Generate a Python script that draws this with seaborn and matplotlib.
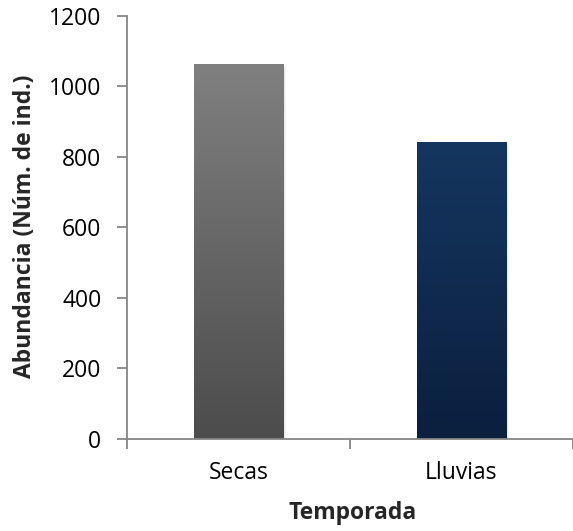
import numpy as np
import pandas as pd
import matplotlib
matplotlib.use("Agg")
import matplotlib.pyplot as plt
import matplotlib.colors as mcolors
import seaborn as sns

temporadas = ["Secas", "Lluvias"]
abundancia = [1064, 843]
y_ticks = [0, 200, 400, 600, 800, 1000, 1200]

# gradient end colours (top, bottom) for each bar
grad_top = ["#808080", "#15365f"]
grad_bottom = ["#4c4c4c", "#0b1f3e"]

sns.set_theme(style="white")
plt.rcParams["font.family"] = ["Open Sans", "DejaVu Sans"]

W, H = 573, 531
fig = plt.figure(figsize=(W / 100, H / 100), dpi=100)
ax = fig.add_axes([0.2216, 0.1733, 0.7784, 0.7966])

df = pd.DataFrame({"Temporada": temporadas, "Abundancia": abundancia})
sns.barplot(data=df, x="Temporada", y="Abundancia", ax=ax, width=0.40,
            color="#777777", saturation=1)

# replace flat fills with vertical gradients and a soft shadow
for patch, top, bot in zip(list(ax.patches), grad_top, grad_bottom):
    x0, y0 = patch.get_x(), patch.get_y()
    w, h = patch.get_width(), patch.get_height()
    cmap = mcolors.LinearSegmentedColormap.from_list("g", [bot, top])
    grad = np.linspace(0, 1, 256).reshape(-1, 1)
    for k, a in enumerate([0.10, 0.06, 0.03]):
        sh = plt.Rectangle((x0 + 0.004 * (k + 1), y0), w, h - 3 * (k + 1),
                           facecolor="black", alpha=a, edgecolor="none", zorder=1)
        ax.add_patch(sh)
    im = ax.imshow(grad, cmap=cmap, aspect="auto", origin="lower",
                   extent=[x0, x0 + w, y0, y0 + h], zorder=2)
    im.set_clip_path(patch)
    patch.set_facecolor("none")
    patch.set_edgecolor("none")
    patch.set_zorder(3)

ax.set_xlim(-0.5, 1.47)
ax.set_ylim(0, 1200)

axis_col = "#868686"
for s in ["top", "right"]:
    ax.spines[s].set_visible(False)
for s in ["left", "bottom"]:
    ax.spines[s].set_color(axis_col)
    ax.spines[s].set_linewidth(1.3)

ax.set_yticks(y_ticks)
ax.set_yticklabels([str(v) for v in y_ticks], fontsize=16.5, color="black")
ax.tick_params(axis="y", direction="out", length=7, width=1.3, color=axis_col,
               left=True, pad=11.5)
ax.set_xticks([0, 1])
ax.set_xticklabels(temporadas, fontsize=16.5, color="black")
ax.set_xticks([-0.5, 0.5, 1.5], minor=True)
ax.tick_params(axis="x", which="major", length=0, pad=16)
ax.tick_params(axis="x", which="minor", direction="out", length=7, width=1.3,
               color=axis_col, bottom=True)

ax.set_xlabel("")
ax.set_ylabel("")
fig.text(353 / W, 1 - 513 / H, "Temporada", fontsize=16.5, fontweight="bold",
         ha="center", va="center")
fig.text(25 / W, 1 - 226 / H, "Abundancia (Núm. de ind.)", fontsize=16.5,
         fontweight="bold", rotation=90, ha="center", va="center")

fig.savefig("out.png", dpi=100)
